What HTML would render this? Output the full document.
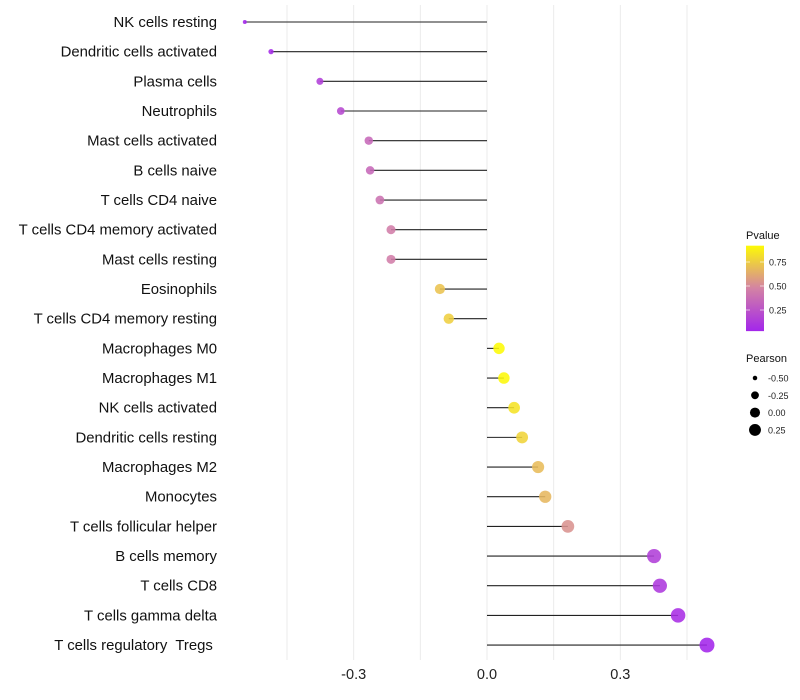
<!DOCTYPE html>
<html><head><meta charset="utf-8"><style>
body{margin:0;background:#fff;}
svg{display:block;font-family:"Liberation Sans",sans-serif;}
</style></head><body>
<svg id="chart" width="800" height="700"></svg>
<script>
const categories=["NK cells resting","Dendritic cells activated","Plasma cells","Neutrophils","Mast cells activated","B cells naive","T cells CD4 naive","T cells CD4 memory activated","Mast cells resting","Eosinophils","T cells CD4 memory resting","Macrophages M0","Macrophages M1","NK cells activated","Dendritic cells resting","Macrophages M2","Monocytes","T cells follicular helper","B cells memory","T cells CD8","T cells gamma delta","T cells regulatory  Tregs "];
const pearson=[-0.545,-0.486,-0.376,-0.329,-0.266,-0.263,-0.241,-0.216,-0.216,-0.106,-0.086,0.027,0.038,0.061,0.079,0.115,0.131,0.182,0.376,0.389,0.43,0.495];
const pvalue=[0.03,0.05,0.15,0.2,0.35,0.35,0.4,0.45,0.45,0.75,0.8,0.98,0.97,0.88,0.82,0.72,0.7,0.55,0.15,0.12,0.07,0.03];
const xTicks=[-0.3,0,0.3];
const xGrid=[-0.45,-0.3,-0.15,0,0.15,0.3,0.45];
const pTicks=[0.25,0.5,0.75];
const sizeTicks=[-0.5,-0.25,0,0.25];

const NS="http://www.w3.org/2000/svg";
const svg=document.getElementById("chart");
const x=v=>487+v*444.4;
const y=i=>22+i*29.67;
const py=p=>334-p*96;
const r=v=>Math.sqrt(Math.max(2,4+50*(v+0.545)));
function lerp(a,b,t){return a.map((c,i)=>Math.round(c+(b[i]-c)*t));}
function col(p){const lo=[160,32,240],mid=[214,135,160],hi=[255,255,0];
 const c=p<0.5?lerp(lo,mid,p/0.5):lerp(mid,hi,(p-0.5)/0.5);return `rgb(${c})`;}
function mk(tag,attrs,text){const e=document.createElementNS(NS,tag);for(const k in attrs)e.setAttribute(k,attrs[k]);if(text!==undefined)e.textContent=text;svg.appendChild(e);return e;}

xGrid.forEach(v=>{const g=mk("line",{x1:x(v),x2:x(v),y1:5,y2:660,stroke:"#ebebeb","stroke-width":1});

});
xTicks.forEach(v=>{const t=mk("text",{x:x(v),y:679,"text-anchor":"middle","font-size":14.5,fill:"#222"},v===0?"0.0":v.toFixed(1));

});
categories.forEach((c,i)=>{
 const t=mk("text",{x:217,y:y(i)+5,"text-anchor":"end","font-size":14.9,fill:"#111","xml:space":"preserve",style:"white-space:pre"},c);
 
 
 const l=mk("line",{x1:x(0),x2:x(pearson[i]),y1:y(i),y2:y(i),stroke:"#222","stroke-width":1.1});
 
 
});
categories.forEach((c,i)=>{
 const d=mk("circle",{cx:x(pearson[i]),cy:y(i),r:r(pearson[i]),fill:col(pvalue[i]),"fill-opacity":0.88});
 
 
});
const defs=mk("defs",{});
defs.innerHTML='<linearGradient id="pg" x1="0" y1="1" x2="0" y2="0"><stop offset="0" stop-color="'+col(0.03)+'"/><stop offset="0.5" stop-color="'+col(0.475)+'"/><stop offset="1" stop-color="'+col(0.98)+'"/></linearGradient>';
const pt=mk("text",{x:746,y:239,"font-size":11,fill:"#111"},"Pvalue");


const bar=mk("rect",{x:746,y:py(0.92),width:18,height:py(0.03)-py(0.92),fill:"url(#pg)"});


pTicks.forEach(p=>{mk("line",{x1:746,x2:750,y1:py(p),y2:py(p),stroke:"#fff","stroke-opacity":0.6});mk("line",{x1:760,x2:764,y1:py(p),y2:py(p),stroke:"#fff","stroke-opacity":0.6});
 const t=mk("text",{x:769,y:py(p)+3.5,"font-size":9,fill:"#222"},p.toFixed(2));
 
 });
const st=mk("text",{x:746,y:362,"font-size":11,fill:"#111"},"Pearson");


sizeTicks.forEach((v,i)=>{const cy=378+i*17.3;
 const d=mk("circle",{cx:755,cy:cy,r:r(v)*0.9,fill:"#000"});
 
 
 const t=mk("text",{x:768,y:cy+3.5,"font-size":9,fill:"#222"},v.toFixed(2));
 
 });
</script>
</body></html>
